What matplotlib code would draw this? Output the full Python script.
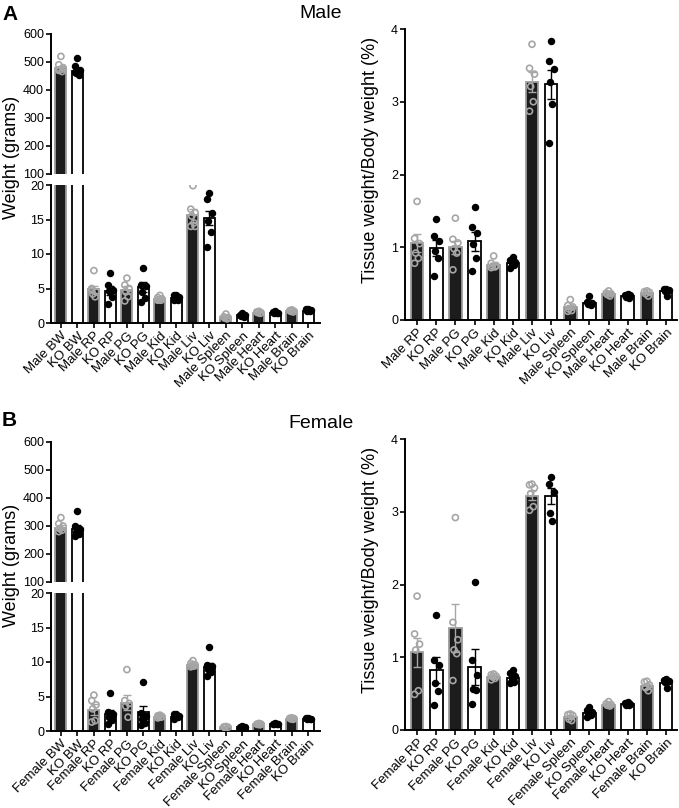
import matplotlib
matplotlib.use('Agg')
import matplotlib.pyplot as plt
import numpy as np

plt.rcParams['font.family'] = ['Liberation Sans', 'DejaVu Sans']

# ---- data: body + tissue weights (grams) ----
male_w_labels = ['Male BW', 'KO BW', 'Male RP', 'KO RP', 'Male PG', 'KO PG', 'Male Kid', 'KO Kid',
                 'Male Liv', 'KO Liv', 'Male Spleen', 'KO Spleen', 'Male Heart', 'KO Heart',
                 'Male Brain', 'KO Brain']
male_w_mean = [478, 468, 4.9, 4.7, 4.8, 5.2, 3.5, 3.6, 15.6, 15.2, 0.8, 1.1, 1.5, 1.5, 1.7, 1.8]
male_w_sem = [8, 10, 0.5, 0.6, 0.5, 0.7, 0.1, 0.15, 0.9, 1.0, 0.1, 0.08, 0.05, 0.05, 0.05, 0.06]
male_w_pts = [
    [520, 490, 480, 472, 466, 470, 475],
    [515, 487, 470, 460, 455, 465],
    [7.6, 5.0, 4.5, 4.2, 3.8, 4.8],
    [7.2, 5.5, 4.8, 4.7, 3.8, 2.7],
    [6.5, 5.5, 5.0, 4.5, 3.8, 3.2],
    [8.0, 5.5, 5.3, 4.5, 3.6, 3.0],
    [4.0, 3.7, 3.5, 3.4, 3.3, 3.3],
    [4.1, 4.0, 3.7, 3.5, 3.4, 3.3],
    [19.9, 16.5, 16.0, 15.5, 14.5, 14.0, 14.0],
    [18.8, 17.9, 16.0, 14.8, 13.2, 11.0],
    [1.3, 0.9, 0.8, 0.7, 0.6],
    [1.4, 1.2, 1.1, 1.0, 0.9],
    [1.7, 1.6, 1.5, 1.5, 1.4],
    [1.7, 1.6, 1.5, 1.5, 1.4],
    [1.9, 1.8, 1.7, 1.7, 1.6],
    [2.1, 2.0, 1.9, 1.8, 1.7],
]

female_w_labels = ['Female BW', 'KO BW', 'Female RP', 'KO RP', 'Female PG', 'KO PG', 'Female Kid',
                   'KO Kid', 'Female Liv', 'KO Liv', 'Female Spleen', 'KO Spleen', 'Female Heart',
                   'KO Heart', 'Female Brain', 'KO Brain']
female_w_mean = [294, 290, 3.1, 2.4, 4.1, 2.7, 2.1, 2.1, 9.5, 9.3, 0.6, 0.6, 1.0, 1.0, 1.8, 1.8]
female_w_sem = [8, 12, 0.8, 0.7, 1.1, 0.9, 0.07, 0.1, 0.15, 0.6, 0.05, 0.05, 0.05, 0.05, 0.05, 0.05]
female_w_pts = [
    [330, 308, 300, 290, 285, 280],
    [352, 300, 290, 280, 270, 265],
    [5.2, 4.4, 3.8, 3.2, 1.5, 1.3],
    [5.5, 2.8, 2.5, 2.0, 1.6, 1.0],
    [8.9, 4.4, 4.0, 3.6, 2.0],
    [7.1, 2.6, 2.2, 1.7, 1.2, 0.8],
    [2.3, 2.2, 2.1, 2.1, 2.0, 1.9],
    [2.5, 2.4, 2.2, 2.1, 2.0, 1.8],
    [10.2, 9.8, 9.6, 9.5, 9.4, 9.3],
    [12.2, 9.6, 9.4, 9.0, 8.5, 8.0],
    [0.65, 0.6, 0.55, 0.5],
    [0.7, 0.65, 0.6, 0.55, 0.5],
    [1.1, 1.0, 1.0, 0.95, 0.9],
    [1.1, 1.05, 1.0, 1.0, 0.95],
    [1.9, 1.85, 1.8, 1.75, 1.7],
    [1.95, 1.9, 1.8, 1.75, 1.7],
]

# ---- data: tissue weight / body weight (%) ----
male_r_labels = male_w_labels[2:]
male_r_mean = [1.06, 0.99, 1.0, 1.08, 0.75, 0.79, 3.27, 3.24, 0.18, 0.23, 0.36, 0.33, 0.37, 0.40]
male_r_sem = [0.12, 0.11, 0.09, 0.13, 0.03, 0.02, 0.14, 0.2, 0.03, 0.02, 0.02, 0.01, 0.01, 0.02]
male_r_pts = [
    [1.63, 1.12, 1.05, 0.92, 0.85, 0.78],
    [1.39, 1.15, 1.08, 0.95, 0.85, 0.60],
    [1.40, 1.11, 1.06, 0.98, 0.92, 0.69],
    [1.55, 1.28, 1.20, 1.05, 0.85, 0.68],
    [0.88, 0.78, 0.75, 0.74, 0.73, 0.72],
    [0.86, 0.83, 0.80, 0.78, 0.75, 0.72],
    [3.79, 3.46, 3.38, 3.21, 3.0, 2.87],
    [3.84, 3.56, 3.45, 3.27, 2.97, 2.43],
    [0.28, 0.2, 0.18, 0.15, 0.13, 0.12],
    [0.33, 0.25, 0.23, 0.22, 0.2],
    [0.40, 0.37, 0.36, 0.35, 0.33],
    [0.36, 0.35, 0.34, 0.32, 0.30],
    [0.40, 0.39, 0.38, 0.36, 0.33],
    [0.43, 0.42, 0.41, 0.40, 0.33],
]

female_r_labels = female_w_labels[2:]
female_r_mean = [1.07, 0.82, 1.40, 0.87, 0.73, 0.72, 3.22, 3.22, 0.18, 0.23, 0.34, 0.36, 0.60, 0.65]
female_r_sem = [0.2, 0.18, 0.33, 0.25, 0.02, 0.03, 0.06, 0.11, 0.03, 0.02, 0.01, 0.01, 0.03, 0.02]
female_r_pts = [
    [1.84, 1.32, 1.18, 1.10, 0.54, 0.49],
    [1.58, 0.96, 0.89, 0.65, 0.53, 0.35],
    [2.92, 1.48, 1.24, 1.10, 1.05, 0.68],
    [2.03, 0.96, 0.76, 0.57, 0.55, 0.36],
    [0.77, 0.76, 0.74, 0.73, 0.71, 0.69],
    [0.83, 0.78, 0.74, 0.72, 0.66, 0.64],
    [3.38, 3.37, 3.33, 3.25, 3.07, 3.02],
    [3.48, 3.38, 3.27, 2.98, 2.87],
    [0.22, 0.21, 0.2, 0.15, 0.13],
    [0.31, 0.27, 0.25, 0.22, 0.2, 0.18],
    [0.39, 0.36, 0.35, 0.34, 0.33],
    [0.38, 0.37, 0.36, 0.35, 0.35],
    [0.67, 0.66, 0.62, 0.58, 0.54],
    [0.70, 0.69, 0.68, 0.66, 0.58],
]

# style
CTRL_FILL = '#1c1c1c'
CTRL_EDGE = '#9c9c9c'
PT_GREY = '#a6a6a6'
JIT = [0.0, -0.13, 0.13, -0.07, 0.07, -0.13, 0.13]
W = 679
H = 808


def fr(x0, y_top, x1, y_bot):
    # pixel box -> figure fraction rect
    return [x0 / W, 1 - y_bot / H, (x1 - x0) / W, (y_bot - y_top) / H]


def draw_bars(ax, means, sems, pts):
    x = np.arange(len(means))
    for i in range(len(means)):
        ctrl = (i % 2 == 0)
        if ctrl:
            ax.bar(x[i], means[i], 0.66, color=CTRL_FILL, edgecolor=CTRL_EDGE, linewidth=1.3, zorder=2)
            ec = PT_GREY
        else:
            ax.bar(x[i], means[i], 0.66, color='white', edgecolor='black', linewidth=1.3, zorder=2)
            ec = 'black'
        ax.errorbar(x[i], means[i], yerr=sems[i], color=ec, capsize=3, elinewidth=1,
                    capthick=1, zorder=4)
        p = pts[i]
        xs = [x[i] + JIT[k % len(JIT)] for k in range(len(p))]
        if ctrl:
            ax.scatter(xs, p, s=19, facecolors='none', edgecolors=PT_GREY, linewidths=1.2, zorder=3)
        else:
            ax.scatter(xs, p, s=19, color='black', zorder=3)


def style(ax):
    for s in ['top', 'right']:
        ax.spines[s].set_visible(False)
    ax.spines['left'].set_linewidth(1.4)
    ax.spines['bottom'].set_linewidth(1.4)
    ax.tick_params(direction='out', length=3.5, width=1.2, labelsize=9, pad=1.5)
    ax.tick_params(axis='x', labelsize=9.5)


def weight_panel(fig, top_px, labels, means, sems, pts):
    # broken y axis: 100-600 above, 0-20 below
    ax_t = fig.add_axes(fr(51, top_px, 320, top_px + 140))
    ax_b = fig.add_axes(fr(51, top_px + 151, 320, top_px + 289))
    for ax in (ax_t, ax_b):
        draw_bars(ax, means, sems, pts)
        style(ax)
        ax.set_xlim(-0.6, 15.7)
    ax_t.set_ylim(100, 600)
    ax_t.set_yticks([100, 200, 300, 400, 500, 600])
    ax_t.spines['bottom'].set_visible(False)
    ax_t.set_xticks([])
    ax_b.set_ylim(0, 20)
    ax_b.set_yticks([0, 5, 10, 15, 20])
    ax_b.set_xticks(np.arange(len(labels)))
    ax_b.set_xticklabels(labels, rotation=45, ha='right', rotation_mode='anchor')
    fig.text(12 / W, 1 - (top_px + 123) / H, 'Weight (grams)', rotation=90, fontsize=13,
             ha='center', va='center')


def ratio_panel(fig, top_px, labels, means, sems, pts):
    ax = fig.add_axes(fr(405, top_px, 677, top_px + 291))
    draw_bars(ax, means, sems, pts)
    style(ax)
    ax.set_xlim(-0.63, 13.57)
    ax.set_ylim(0, 4)
    ax.set_yticks([0, 1, 2, 3, 4])
    ax.set_xticks(np.arange(len(labels)))
    ax.set_xticklabels(labels, rotation=45, ha='right', rotation_mode='anchor')
    fig.text(371 / W, 1 - (top_px + 131) / H, 'Tissue weight/Body weight (%)', rotation=90,
             fontsize=13, ha='center', va='center')


fig = plt.figure(figsize=(6.79, 8.08), dpi=100)

weight_panel(fig, 34, male_w_labels, male_w_mean, male_w_sem, male_w_pts)
ratio_panel(fig, 29, male_r_labels, male_r_mean, male_r_sem, male_r_pts)
weight_panel(fig, 442, female_w_labels, female_w_mean, female_w_sem, female_w_pts)
ratio_panel(fig, 439, female_r_labels, female_r_mean, female_r_sem, female_r_pts)

fig.text(2 / W, 1 - 15 / H, 'A', fontsize=15, fontweight='bold', va='center')
fig.text(321 / W, 1 - 14 / H, 'Male', fontsize=14, ha='center', va='center')
fig.text(2 / W, 1 - 421 / H, 'B', fontsize=15, fontweight='bold', va='center')
fig.text(321 / W, 1 - 424 / H, 'Female', fontsize=14, ha='center', va='center')

fig.savefig('out.png', dpi=100)
